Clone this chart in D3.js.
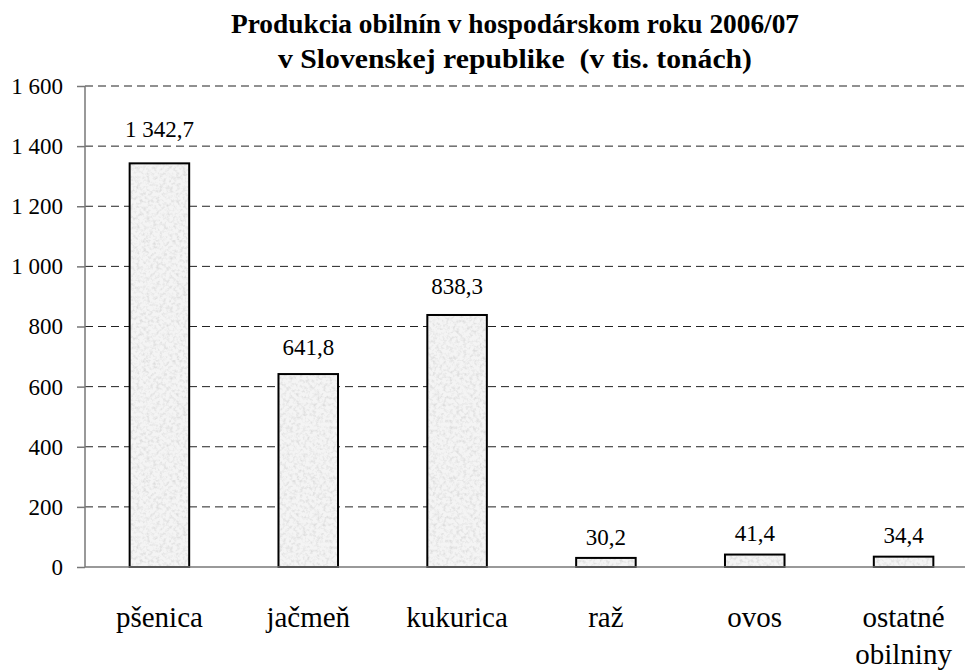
<!DOCTYPE html>
<html lang="sk">
<head>
<meta charset="UTF-8">
<script src="https://d3js.org/d3.v7.min.js"></script>
<style>
    body { margin: 0; background: #fff; }
</style>
</head>
<body>
<div id="chart"></div>
<script>
// Data
const categories = ["pšenica", "jačmeň", "kukurica", "raž", "ovos", "ostatné obilniny"];
const categoryLines = [["pšenica"], ["jačmeň"], ["kukurica"], ["raž"], ["ovos"], ["ostatné", "obilniny"]];
const values = [1342.7, 641.8, 838.3, 30.2, 41.4, 34.4];
const yTicks = [0, 200, 400, 600, 800, 1000, 1200, 1400, 1600];
const titleLines = ["Produkcia obilnín v hospodárskom roku 2006/07", "v Slovenskej republike  (v tis. tonách)"];

// Dimensions
const width = 965, height = 672;
const plot = { left: 85, right: 978, top: 86, bottom: 567 };
const serif = "'Liberation Serif', 'Times New Roman', serif";

const sk = d3.formatLocale({ decimal: ",", thousands: " ", grouping: [3], currency: ["", ""] });
const fmtTick = sk.format(",d");
const fmtVal = sk.format(",.1f");

const svg = d3.select("#chart").append("svg")
    .attr("width", width)
    .attr("height", height)
    .style("font-family", serif);

// bar texture (grainy light grey)
const defs = svg.append("defs");
const filt = defs.append("filter").attr("id", "grain")
    .attr("x", 0).attr("y", 0).attr("width", 1).attr("height", 1);
filt.append("feTurbulence")
    .attr("type", "fractalNoise").attr("baseFrequency", 0.3)
    .attr("numOctaves", 3).attr("seed", 7).attr("result", "n");
filt.append("feColorMatrix").attr("in", "n").attr("type", "matrix")
    .attr("values", "0 0 0 0 0.72  0 0 0 0 0.72  0 0 0 0 0.72  2.4 0 0 0 -1.05");
const pat = defs.append("pattern").attr("id", "tex")
    .attr("patternUnits", "userSpaceOnUse").attr("width", 120).attr("height", 120);
pat.append("rect").attr("width", 120).attr("height", 120).attr("fill", "#f4f4f4");
pat.append("rect").attr("width", 120).attr("height", 120).attr("fill", "#fff").attr("filter", "url(#grain)");

// Scales
const x = d3.scaleBand()
    .domain(categories)
    .range([plot.left, plot.right])
    .paddingInner(0.6)
    .paddingOuter(0.3);

const y = d3.scaleLinear()
    .domain([0, 1600])
    .range([plot.bottom, plot.top]);

// Grid
svg.append("g")
    .selectAll("line")
    .data(yTicks.filter(d => d > 0))
    .join("line")
    .attr("x1", plot.left)
    .attr("x2", width)
    .attr("y1", d => y(d))
    .attr("y2", d => y(d))
    .attr("stroke", "#222")
    .attr("stroke-width", 1)
    .attr("stroke-dasharray", "8,5");

// Bars
svg.append("g")
    .selectAll("rect")
    .data(values)
    .join("rect")
    .attr("x", (d, i) => x(categories[i]))
    .attr("y", d => y(d))
    .attr("width", x.bandwidth())
    .attr("height", d => y(0) - y(d))
    .attr("fill", "url(#tex)")
    .attr("stroke", "#000")
    .attr("stroke-width", 2);

// Value labels (gap above bar grows a little with the value, as in the original)
svg.append("g")
    .selectAll("text")
    .data(values)
    .join("text")
    .style("font-family", serif)
    .style("font-size", "23px")
    .attr("x", (d, i) => x(categories[i]) + x.bandwidth() / 2)
    .attr("y", d => y(d) - 13 - d * 0.01)
    .attr("text-anchor", "middle")
    .attr("fill", "#000")
    .text(d => fmtVal(d));

// Axes
const yAxis = d3.axisLeft(y)
    .tickValues(yTicks)
    .tickFormat(fmtTick)
    .tickSize(8)
    .tickPadding(14);

const gy = svg.append("g")
    .attr("transform", `translate(${plot.left},0)`)
    .call(yAxis);
gy.select(".domain").remove();
gy.selectAll(".tick line").attr("stroke", "#777").attr("stroke-width", 1.5);
gy.selectAll(".tick text")
    .style("font-family", serif)
    .style("font-size", "23px");

svg.append("line")
    .attr("x1", plot.left).attr("x2", plot.left)
    .attr("y1", y(1600)).attr("y2", y(0))
    .attr("stroke", "#777").attr("stroke-width", 1.5);

svg.append("line")
    .attr("x1", plot.left).attr("x2", width)
    .attr("y1", y(0)).attr("y2", y(0))
    .attr("stroke", "#777").attr("stroke-width", 1.5);

// Category labels
const cats = svg.append("g")
    .selectAll("text")
    .data(categories)
    .join("text")
    .style("font-family", serif)
    .style("font-size", "29px")
    .attr("x", d => x(d) + x.bandwidth() / 2)
    .attr("y", 627)
    .attr("text-anchor", "middle");
cats.selectAll("tspan")
    .data((d, i) => categoryLines[i])
    .join("tspan")
    .attr("x", function () { return this.parentNode.getAttribute("x"); })
    .attr("dy", (d, i) => i === 0 ? 0 : 37)
    .text(d => d);

// Title
const titleY = [33, 68];
const titleLen = [568, 474];
svg.append("g")
    .selectAll("text")
    .data(titleLines)
    .join("text")
    .style("font-family", serif)
    .style("font-size", "28px")
    .style("font-weight", "bold")
    .style("white-space", "pre")
    .attr("x", 515)
    .attr("y", (d, i) => titleY[i])
    .attr("text-anchor", "middle")
    .attr("textLength", (d, i) => titleLen[i])
    .attr("lengthAdjust", "spacingAndGlyphs")
    .text(d => d);
</script>
</body>
</html>
